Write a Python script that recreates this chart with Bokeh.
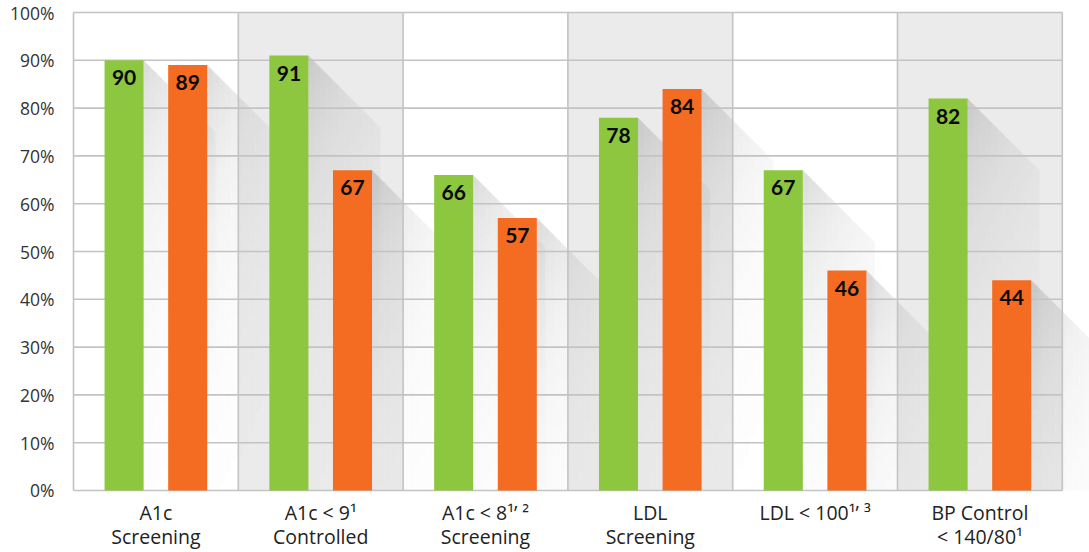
import math

from bokeh.core.properties import value
from bokeh.embed import file_html
from bokeh.models import ColumnDataSource, FixedTicker, Range1d
from bokeh.plotting import figure
from bokeh.resources import INLINE

# ---- data -------------------------------------------------------------
categories = [
    "A1c\nScreening",
    "A1c < 9\u00b9\nControlled",
    "A1c < 8\u00b9\u2019 \u00b2\nScreening",
    "LDL\nScreening",
    "LDL < 100\u00b9\u2019 \u00b3",
    "BP Control\n< 140/80\u00b9",
]
series_1 = [90, 91, 66, 78, 67, 82]
series_2 = [89, 67, 57, 84, 46, 44]
y_ticks = [0, 10, 20, 30, 40, 50, 60, 70, 80, 90, 100]
y_tick_labels = ["0%", "10%", "20%", "30%", "40%", "50%", "60%", "70%", "80%", "90%", "100%"]

# ---- layout -----------------------------------------------------------
WIDTH, HEIGHT = 1089, 552
BORDER_L, BORDER_T, BORDER_B = 71, 10, 59
FRAME_W = WIDTH - BORDER_L
FRAME_H = HEIGHT - BORDER_T - BORDER_B
CAT_PX = 164.8                       # width of one category band in pixels
X0 = -0.5 - 2 / CAT_PX
X1 = X0 + FRAME_W / CAT_PX
Y0, Y1 = -0.42, 100.42
KX = FRAME_W / (X1 - X0)             # px per x unit
KY = FRAME_H / (Y1 - Y0)             # px per percent

GREEN = "#8dc63f"
ORANGE = "#f36c21"
BAND_GREY = "#ebebeb"
GRID = "#c3c3c3"
FONT = "Open Sans"

BAR_W = 0.237
OFFSET = 0.193

p = figure(
    width=WIDTH, height=HEIGHT,
    x_range=Range1d(X0, X1), y_range=Range1d(Y0, Y1),
    output_backend="svg", toolbar_location=None,
    min_border_left=BORDER_L, min_border_right=0,
    min_border_top=BORDER_T, min_border_bottom=BORDER_B,
)
p.outline_line_color = None
p.xgrid.visible = False
p.ygrid.visible = False
p.background_fill_color = "white"
p.border_fill_color = "white"

n = len(categories)
idx = list(range(n))

# alternating background bands
p.quad(left=[i - 0.5 for i in idx], right=[i + 0.5 for i in idx],
       bottom=0, top=100,
       fill_color=["white" if i % 2 == 0 else BAND_GREY for i in idx],
       line_color=None)

# long diagonal shadows cast down-right from each bar's top corner
SHADOW_PX = 72.0


def shadow_cells(x_right, top):
    xs, ys, alphas = [], [], []
    nx, step, lam, a0 = 12, 9.0, 100.0, 0.145
    bar_px = top * KY
    for j in range(nx):
        ua = j * SHADOW_PX / nx
        ub = (j + 1) * SHADOW_PX / nx
        uc = (ua + ub) / 2
        xa = x_right + ua / KX
        xb = x_right + ub / KX
        k = 0
        while True:
            dy_hi = uc + k * step
            if dy_hi >= bar_px:
                break
            dy_lo = min(dy_hi + step, bar_px)
            y_lo = top - dy_lo / KY
            if k == 0:
                ta, tb = top - ua / KY, top - ub / KY
            else:
                ta = tb = top - dy_hi / KY
            s = (uc + (dy_hi + dy_lo) / 2) / math.sqrt(2)
            a = a0 * math.exp(-s / lam) * (1 - 0.4 * uc / SHADOW_PX)
            if a < 0.006:
                break
            xs.append([xa, xb, xb, xa])
            ys.append([ta, tb, y_lo, y_lo])
            alphas.append(a)
            k += 1
    return xs, ys, alphas


sx, sy, sa = [], [], []
for i in idx:
    for off, v in ((-OFFSET, series_1[i]), (OFFSET, series_2[i])):
        cx, cy, ca = shadow_cells(i + off + BAR_W / 2, v)
        sx += cx
        sy += cy
        sa += ca
p.patches(xs="xs", ys="ys", fill_alpha="a", fill_color="black", line_color=None,
          source=ColumnDataSource(dict(xs=sx, ys=sy, a=sa)))

# grid lines confined to the category bands
p.segment(x0=-0.5, x1=n - 0.5, y0=y_ticks, y1=y_ticks, line_color=GRID, line_width=1.6)
p.segment(x0=[i - 0.5 for i in range(n + 1)], x1=[i - 0.5 for i in range(n + 1)],
          y0=0, y1=100, line_color=GRID, line_width=1.6)

# bars
src = ColumnDataSource(dict(
    x1=[i - OFFSET for i in idx], x2=[i + OFFSET for i in idx],
    v1=series_1, v2=series_2,
    t1=[str(v) for v in series_1], t2=[str(v) for v in series_2],
))
p.vbar(x="x1", top="v1", bottom=0, width=BAR_W, fill_color=GREEN, line_color=None, source=src)
p.vbar(x="x2", top="v2", bottom=0, width=BAR_W, fill_color=ORANGE, line_color=None, source=src)

for xcol, tcol, vcol in (("x1", "t1", "v1"), ("x2", "t2", "v2")):
    p.text(x=xcol, y=vcol, text=tcol, source=src, text_align="center",
           text_baseline="top", y_offset=10, text_font=value("Lato"),
           text_font_style="bold", text_font_size="21px", text_color="#0a0a0a")

# axes
for ax in (p.xaxis, p.yaxis):
    ax.axis_line_color = None
    ax.major_tick_line_color = None
    ax.minor_tick_line_color = None
    ax.major_tick_out = 0
    ax.major_tick_in = 0
    ax.minor_tick_out = 0
    ax.minor_tick_in = 0
    ax.axis_label_standoff = 0
    ax.major_label_text_font = FONT

p.yaxis.ticker = FixedTicker(ticks=y_ticks)
p.yaxis.major_label_overrides = dict(zip(y_ticks, y_tick_labels))
p.yaxis.major_label_standoff = 17
p.yaxis.major_label_text_font_size = "17.5px"
p.yaxis.major_label_text_color = "#333333"

p.xaxis.ticker = FixedTicker(ticks=idx)
p.xaxis.major_label_overrides = dict(zip(idx, categories))
p.xaxis.major_label_standoff = 6
p.xaxis.major_label_text_font_size = "19.5px"
p.xaxis.major_label_text_color = "#222222"
p.xaxis.major_label_text_line_height = 0.9

open("out.html", "w").write(file_html(p, INLINE))
